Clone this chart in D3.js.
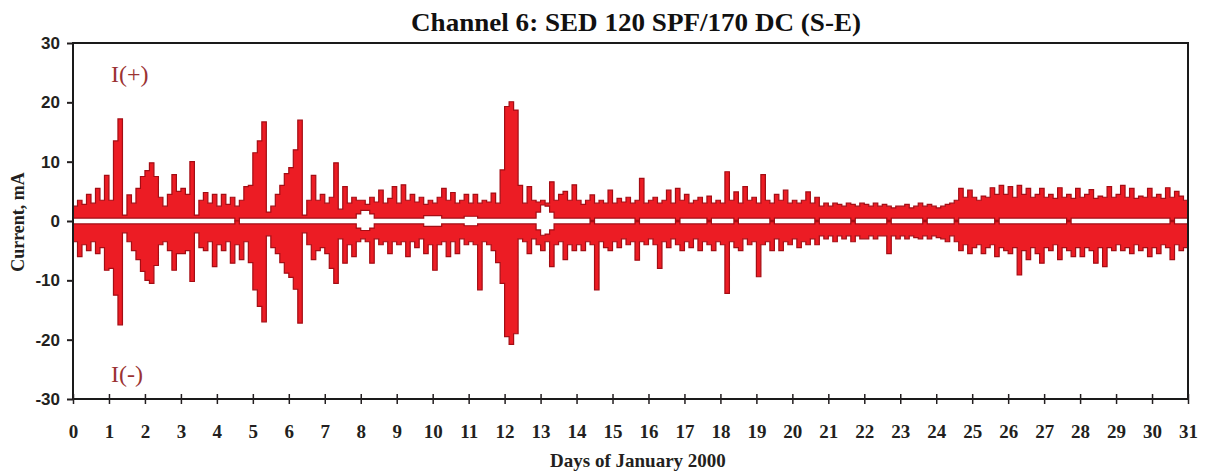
<!DOCTYPE html>
<html lang="en"><head>
<meta charset="utf-8">
<title>Channel 6: SED 120 SPF/170 DC (S-E)</title>
<script src="https://cdn.jsdelivr.net/npm/d3@7"></script>
<style type="text/css">
  body { margin: 0; background: #fff; }
</style>
</head>
<body>
<svg width="1210" height="473"></svg>
<script type="text/javascript">

// samples every 3 hours (8 per day), day 0 .. 31
var stepsPerDay = 8;

// upper edge of the I(+) trace, mA
var posHi = [
  2.5, 3.5, 2.8, 4.5, 3.0, 5.5, 3.5, 7.7,     // day 0
  3.5, 13.5, 17.2, 1.0, 4.4, 3.0, 5.5, 7.5,   // 1
  8.5, 9.8, 7.5, 4.0, 2.5, 4.5, 7.8, 5.0,     // 2
  5.5, 4.5, 10.0, 1.0, 3.5, 4.8, 3.0, 4.5,    // 3
  2.5, 4.5, 2.8, 4.0, 2.5, 3.5, 5.8, 6.0,     // 4
  11.5, 13.5, 16.7, 1.5, 2.5, 4.5, 6.0, 8.0,  // 5
  9.0, 12.0, 17.0, 1.0, 3.5, 7.7, 3.5, 4.5,   // 6
  3.0, 4.0, 9.8, 2.0, 5.8, 3.0, 4.0, 3.5,     // 7
  3.5, 2.8, 4.0, 3.2, 5.2, 3.0, 3.8, 5.8,     // 8
  3.0, 6.1, 3.5, 4.5, 3.2, 4.0, 2.8, 3.5,     // 9
  3.0, 4.0, 5.5, 3.5, 4.8, 3.0, 3.5, 4.5,     // 10
  3.0, 4.5, 3.0, 3.5, 3.2, 4.7, 3.0, 8.6,     // 11
  19.3, 20.1, 18.7, 6.0, 3.0, 5.8, 3.5, 3.2,  // 12
  3.5, 3.0, 6.6, 3.5, 4.5, 5.0, 3.5, 6.1,     // 13
  3.5, 2.8, 3.5, 4.4, 3.0, 3.5, 3.0, 5.2,     // 14
  3.0, 3.8, 3.2, 4.0, 3.0, 3.5, 7.2, 3.0,     // 15
  3.5, 4.0, 3.0, 3.5, 5.2, 3.0, 5.5, 3.5,     // 16
  4.5, 3.0, 3.5, 4.0, 3.0, 4.2, 3.0, 3.5,     // 17
  3.0, 8.3, 3.5, 4.9, 3.0, 5.8, 3.5, 4.0,     // 18
  3.0, 7.8, 3.5, 3.0, 4.5, 3.5, 5.2, 3.0,     // 19
  3.5, 3.0, 3.5, 4.9, 3.0, 4.0, 2.5, 3.0,     // 20
  2.5, 3.0, 2.8, 2.5, 3.0, 2.8, 2.5, 3.0,     // 21
  2.8, 2.5, 3.0, 2.5, 2.8, 2.5, 2.2, 2.5,     // 22
  2.5, 2.8, 2.2, 2.5, 3.0, 2.5, 2.8, 2.5,     // 23
  2.2, 2.5, 2.8, 3.0, 3.5, 5.5, 4.0, 5.2,     // 24
  4.0, 3.5, 4.2, 4.0, 5.6, 4.5, 6.0, 4.5,     // 25
  5.8, 4.0, 6.0, 4.5, 5.5, 4.0, 4.5, 5.5,     // 26
  4.0, 4.5, 3.8, 5.6, 4.0, 4.5, 3.8, 5.5,     // 27
  4.0, 4.5, 5.3, 3.8, 4.2, 4.0, 5.8, 4.0,     // 28
  4.5, 6.0, 4.0, 5.5, 3.8, 4.2, 4.0, 5.5,     // 29
  4.0, 4.5, 3.8, 5.6, 4.0, 5.0, 4.2, 3.5,     // 30
  3.5
];

// lower edge of the I(+) trace
var posLo = [
  .5, .5, .5, .5, .5, .5, .5, .5,     // 0
  .5, .5, .5, .5, .5, .5, .5, .5,     // 1
  .5, .5, .5, .5, .5, .5, .5, .5,     // 2
  .5, .5, .5, .5, .5, .5, .5, .5,     // 3
  .5, .5, .5, .5, 0, .5, .5, .5,      // 4
  .5, .5, .5, .5, .5, .5, .5, .5,     // 5
  .5, .5, .5, .5, .5, .5, .5, .5,     // 6
  .5, .5, .5, .5, .5, .5, .5, 1.2,    // 7
  1.8, 1.8, 1.2, .5, .5, .5, .5, .5,  // 8
  .5, .5, .5, .5, .5, .5, .9, .9,     // 9
  .9, .9, .5, .5, .5, .5, .5, .8,     // 10
  .8, .8, .5, .5, .5, .5, .5, .5,     // 11
  .5, .5, .5, .5, .5, .5, .5, 1.5,    // 12
  2.7, 2.5, 1.5, .5, .5, .5, .5, .5,  // 13
  .5, .5, .5, .1, .5, .5, .5, .5,     // 14
  .5, .5, .5, .5, .5, .1, .5, .5,     // 15
  .5, .5, .5, .5, .5, .5, .1, .5,     // 16
  .5, .5, .5, .5, .5, .1, .5, .5,     // 17
  .5, .5, .5, .1, .5, .5, .5, .5,     // 18
  .5, .5, .5, .1, .5, .5, .5, .5,     // 19
  .5, .5, .5, .5, .5, .1, .5, .5,     // 20
  .5, .5, .5, .5, .5, .1, .5, .5,     // 21
  .5, .5, .5, .5, .5, .1, .5, .5,     // 22
  .5, .5, .5, .5, .5, .1, .5, .5,     // 23
  .5, .5, .5, .5, .1, .5, .5, .5,     // 24
  .5, .5, .5, .5, .5, .1, .5, .5,     // 25
  .5, .5, .5, .5, .5, .5, .5, .5,     // 26
  .5, .5, .5, .5, .5, .1, .5, .5,     // 27
  .5, .5, .5, .5, .5, .5, .5, .5,     // 28
  .5, .5, .5, .5, .5, .5, .5, .5,     // 29
  .5, .5, .5, .5, .1, .5, .5, .5,     // 30
  .5
];

// lower edge of the I(-) trace, mA
var negHi = [
  -3.5, -6.0, -4.0, -5.0, -3.5, -5.5, -4.5, -8.3,      // 0
  -8.0, -12.5, -17.5, -2.0, -3.5, -5.0, -6.5, -8.5,    // 1
  -10.0, -10.5, -7.5, -4.0, -3.5, -5.0, -8.3, -5.5,    // 2
  -5.5, -5.0, -10.2, -2.0, -4.5, -5.0, -3.5, -7.7,     // 3
  -4.0, -5.0, -3.5, -7.1, -4.0, -6.5, -3.5, -7.0,      // 4
  -11.6, -14.4, -17.0, -2.5, -4.5, -5.5, -7.0, -8.8,   // 5
  -9.5, -11.5, -17.2, -2.0, -4.0, -6.5, -5.0, -4.5,    // 6
  -5.5, -8.0, -10.5, -3.0, -7.1, -4.0, -6.0, -3.5,     // 7
  -3.0, -3.5, -7.1, -3.0, -4.0, -3.5, -5.5, -3.5,      // 8
  -4.0, -3.5, -6.0, -3.5, -4.5, -3.0, -5.5, -4.0,      // 9
  -8.3, -4.0, -3.5, -6.0, -3.5, -5.5, -3.0, -4.0,      // 10
  -3.5, -4.0, -11.6, -3.5, -4.0, -5.0, -7.0, -10.5,    // 11
  -19.5, -20.8, -19.0, -3.0, -3.5, -5.5, -3.0, -4.0,   // 12
  -5.0, -3.5, -7.7, -4.0, -3.5, -6.5, -4.0, -5.0,      // 13
  -4.0, -5.0, -3.5, -4.0, -11.6, -3.5, -4.5, -5.0,     // 14
  -3.5, -4.5, -3.0, -4.0, -3.5, -6.6, -3.5, -4.0,      // 15
  -3.0, -4.0, -8.0, -3.5, -4.5, -3.0, -4.0, -5.0,      // 16
  -3.5, -4.5, -3.0, -5.0, -3.5, -4.0, -5.0, -3.5,      // 17
  -4.0, -12.2, -3.5, -4.5, -5.0, -3.0, -4.0, -3.5,     // 18
  -9.4, -4.0, -3.5, -5.0, -3.0, -5.0, -3.5, -4.0,      // 19
  -3.0, -4.5, -3.5, -4.0, -3.0, -4.0, -2.5, -3.0,      // 20
  -2.5, -3.5, -2.5, -3.0, -2.5, -3.5, -2.5, -3.0,      // 21
  -3.0, -2.5, -3.0, -2.5, -2.5, -5.5, -2.5, -3.0,      // 22
  -2.5, -3.0, -2.5, -2.8, -3.0, -2.5, -3.0, -2.5,      // 23
  -2.8, -3.0, -3.5, -2.5, -3.5, -5.0, -4.0, -5.5,      // 24
  -4.5, -4.0, -5.5, -4.5, -4.0, -6.0, -4.5, -5.0,      // 25
  -5.5, -4.5, -9.1, -5.0, -6.5, -4.5, -5.5, -7.1,      // 26
  -4.5, -5.0, -4.0, -6.5, -4.5, -5.0, -6.0, -4.5,      // 27
  -6.0, -4.5, -5.0, -7.1, -4.5, -7.7, -4.5, -5.0,      // 28
  -4.0, -5.0, -4.5, -5.5, -4.0, -5.0, -4.5, -6.0,      // 29
  -4.5, -5.5, -4.0, -4.5, -6.5, -4.0, -5.0, -4.5,      // 30
  -4.5
];

// upper edge of the I(-) trace
var negLo = [
  -.5, -.5, -.5, -.5, -.5, -.5, -.5, -.5,      // 0
  -.5, -.5, -.5, -.5, -.5, -.5, -.5, -.5,      // 1
  -.5, -.5, -.5, -.5, -.5, -.5, -.5, -.5,      // 2
  -.5, -.5, -.5, -.5, -.5, -.5, -.5, -.5,      // 3
  -.5, -.5, -.5, -.5, 0, -.5, -.5, -.5,        // 4
  -.5, -.5, -.5, -.5, -.5, -.5, -.5, -.5,      // 5
  -.5, -.5, -.5, -.5, -.5, -.5, -.5, -.5,      // 6
  -.5, -.5, -.5, -.5, -.5, -.5, -.5, -1.2,     // 7
  -1.6, -1.6, -1.2, -.5, -.5, -.5, -.5, -.5,   // 8
  -.5, -.5, -.5, -.5, -.5, -.5, -.9, -.9,      // 9
  -.9, -.9, -.5, -.5, -.5, -.5, -.5, -.8,      // 10
  -.8, -.8, -.5, -.5, -.5, -.5, -.5, -.5,      // 11
  -.5, -.5, -.5, -.5, -.5, -.5, -.5, -1.5,     // 12
  -2.4, -2.2, -1.5, -.5, -.5, -.5, -.5, -.5,   // 13
  -.5, -.5, -.5, -.1, -.5, -.5, -.5, -.5,      // 14
  -.5, -.5, -.5, -.5, -.5, -.1, -.5, -.5,      // 15
  -.5, -.5, -.5, -.5, -.5, -.5, -.1, -.5,      // 16
  -.5, -.5, -.5, -.5, -.5, -.1, -.5, -.5,      // 17
  -.5, -.5, -.5, -.1, -.5, -.5, -.5, -.5,      // 18
  -.5, -.5, -.5, -.1, -.5, -.5, -.5, -.5,      // 19
  -.5, -.5, -.5, -.5, -.5, -.1, -.5, -.5,      // 20
  -.5, -.5, -.5, -.5, -.5, -.1, -.5, -.5,      // 21
  -.5, -.5, -.5, -.5, -.5, -.1, -.5, -.5,      // 22
  -.5, -.5, -.5, -.5, -.5, -.1, -.5, -.5,      // 23
  -.5, -.5, -.5, -.5, -.1, -.5, -.5, -.5,      // 24
  -.5, -.5, -.5, -.5, -.5, -.1, -.5, -.5,      // 25
  -.5, -.5, -.5, -.5, -.5, -.5, -.5, -.5,      // 26
  -.5, -.5, -.5, -.5, -.5, -.1, -.5, -.5,      // 27
  -.5, -.5, -.5, -.5, -.5, -.5, -.5, -.5,      // 28
  -.5, -.5, -.5, -.5, -.5, -.5, -.5, -.5,      // 29
  -.5, -.5, -.5, -.5, -.1, -.5, -.5, -.5,      // 30
  -.5
];

var dayTicks = d3.range(0, 32);
var currentTicks = [-30, -20, -10, 0, 10, 20, 30];

var chartTitle = "Channel 6: SED 120 SPF/170 DC (S-E)",
    xTitle = "Days of January 2000",
    yTitle = "Current, mA";

var svg = d3.select("svg");

var x = d3.scaleLinear().domain([0, 31]).range([73, 1188]);
var y = d3.scaleLinear().domain([-30, 30]).range([399, 43]);

var serif = "'Liberation Serif', 'Times New Roman', serif",
    ink = "#231f20";

// traces
var pos = posHi.map(function(v, i) { return {d: i / stepsPerDay, lo: posLo[i], hi: v}; });
var neg = negHi.map(function(v, i) { return {d: i / stepsPerDay, lo: negLo[i], hi: v}; });

var band = d3.area()
    .curve(d3.curveStepAfter)
    .x(function(p) { return x(p.d); })
    .y0(function(p) { return y(p.lo); })
    .y1(function(p) { return y(p.hi); });

svg.append("clipPath").attr("id", "plot")
   .append("rect").attr("x", 73).attr("y", 43).attr("width", 1115).attr("height", 356);

var g = svg.append("g").attr("clip-path", "url(#plot)");
[pos, neg].forEach(function(series) {
  g.append("path")
   .datum(series)
   .attr("d", band)
   .attr("fill", "#ec1c24")
   .attr("stroke", "#a40d14")
   .attr("stroke-width", 1.2)
   .attr("stroke-linejoin", "miter");
});

// frame
svg.append("rect")
   .attr("x", 73).attr("y", 43).attr("width", 1115).attr("height", 356)
   .attr("fill", "none").attr("stroke", "#1a1a1a").attr("stroke-width", 2);

// y axis
var yAxis = svg.append("g")
   .attr("transform", "translate(73,0)")
   .call(d3.axisLeft(y).tickValues(currentTicks).tickSize(6).tickPadding(7)
           .tickFormat(function(d) { return String(d); }));
yAxis.select(".domain").remove();
yAxis.selectAll("line").attr("stroke", ink).attr("stroke-width", 2);
yAxis.selectAll("text")
   .attr("fill", ink)
   .style("font-family", "'Liberation Sans', Arial, sans-serif")
   .style("font-weight", "bold")
   .style("font-size", "17px");

// x axis
var xAxis = svg.append("g")
   .attr("transform", "translate(0,399)")
   .call(d3.axisBottom(x).tickValues(dayTicks).tickSize(6));
xAxis.select(".domain").remove();
xAxis.selectAll("line").attr("y1", -5).attr("y2", 5).attr("stroke", ink).attr("stroke-width", 1.5);
xAxis.selectAll("text")
   .attr("y", 39).attr("dy", null)
   .attr("fill", ink)
   .style("font-family", serif)
   .style("font-weight", "bold")
   .style("font-size", "19px");

// titles
svg.append("text")
   .attr("x", 636).attr("y", 31)
   .attr("text-anchor", "middle")
   .attr("textLength", 450)
   .attr("lengthAdjust", "spacingAndGlyphs")
   .attr("fill", "#111")
   .style("font-family", serif).style("font-weight", "bold").style("font-size", "25px")
   .text(chartTitle);

svg.append("text")
   .attr("x", 638).attr("y", 467)
   .attr("text-anchor", "middle")
   .attr("fill", ink)
   .style("font-family", serif).style("font-weight", "bold").style("font-size", "19px")
   .text(xTitle);

svg.append("text")
   .attr("transform", "translate(24,222) rotate(-90)")
   .attr("text-anchor", "middle")
   .attr("fill", ink)
   .style("font-family", serif).style("font-weight", "bold").style("font-size", "18px")
   .text(yTitle);

// trace labels
svg.append("text")
   .attr("x", 111).attr("y", 82)
   .attr("fill", "#9b3333")
   .style("font-family", serif).style("font-size", "24px")
   .text("I(+)");

svg.append("text")
   .attr("x", 111).attr("y", 382)
   .attr("fill", "#9b3333")
   .style("font-family", serif).style("font-size", "24px")
   .text("I(-)");

</script>
</body>
</html>
